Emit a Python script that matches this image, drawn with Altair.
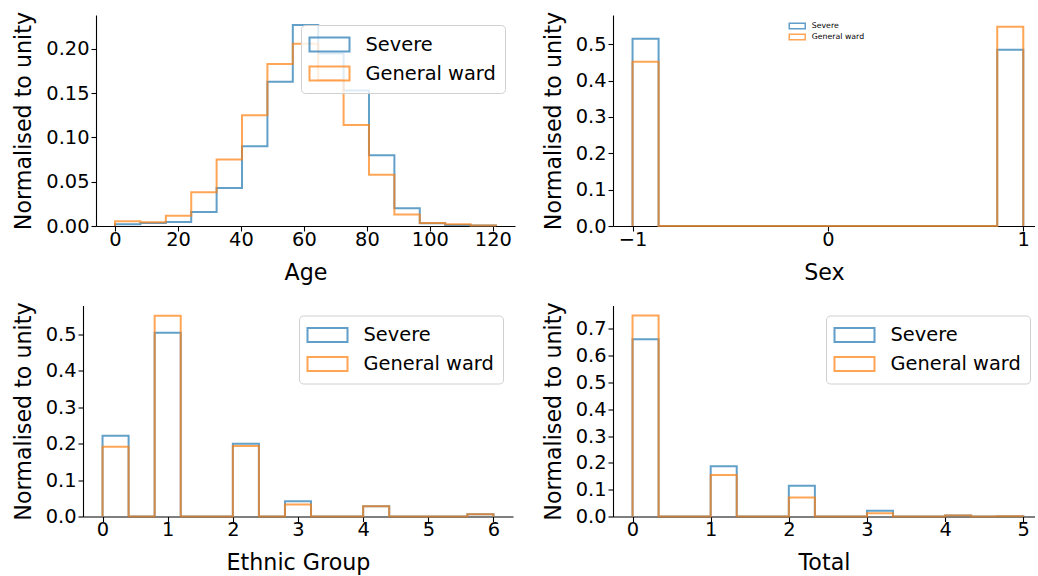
import altair as alt
import numpy as np
import pandas as pd

SERIES = ["Severe", "General ward"]
COLORS = ["#1f77b4", "#ff7f0e"]
FONT = "DejaVu Sans"

# ---- Age (15 bins from 0 to 121) ----
AGE_MIN, AGE_MAX, AGE_NBINS = 0.0, 121.0, 15
age_severe = [0.002, 0.0034, 0.0045, 0.0158, 0.043, 0.090, 0.163, 0.227,
              0.195, 0.153, 0.080, 0.020, 0.003, 0.001, 0.0005]
age_general = [0.0053, 0.0041, 0.0117, 0.038, 0.075, 0.125, 0.183, 0.206,
               0.165, 0.114, 0.058, 0.013, 0.0034, 0.002, 0.0005]

# ---- Sex (15 bins from -1 to 1) ----
SEX_MIN, SEX_MAX, SEX_NBINS = -1.0, 1.0, 15
sex_severe = [0.515, 0, 0, 0, 0, 0, 0, 0, 0, 0, 0, 0, 0, 0, 0.485]
sex_general = [0.452, 0, 0, 0, 0, 0, 0, 0, 0, 0, 0, 0, 0, 0, 0.548]

# ---- Ethnic group (15 bins from 0 to 6) ----
ETH_MIN, ETH_MAX, ETH_NBINS = 0.0, 6.0, 15
eth_severe = [0.222, 0, 0.505, 0, 0, 0.200, 0, 0.042, 0, 0, 0.028, 0, 0, 0, 0.006]
eth_general = [0.192, 0, 0.552, 0, 0, 0.194, 0, 0.033, 0, 0, 0.028, 0, 0, 0, 0.006]

# ---- Total (15 bins from 0 to 5) ----
TOT_MIN, TOT_MAX, TOT_NBINS = 0.0, 5.0, 15
tot_severe = [0.662, 0, 0, 0.1875, 0, 0, 0.115, 0, 0, 0.021, 0, 0, 0.004, 0, 0.001]
tot_general = [0.750, 0, 0, 0.155, 0, 0, 0.071, 0, 0, 0.0125, 0, 0, 0.004, 0, 0.001]

# legend patch: a wide, flat outlined rectangle
RECT = "M-2,-0.7L2,-0.7L2,0.7L-2,0.7Z"


def step_rows(lo, hi, nbins, heights, name):
    edges = np.linspace(lo, hi, nbins + 1)
    rows = [(edges[0], 0.0)]
    for i, h in enumerate(heights):
        rows.append((edges[i], h))
        rows.append((edges[i + 1], h))
    rows.append((edges[-1], 0.0))
    return [{"x": float(x), "y": float(y), "i": k, "series": name}
            for k, (x, y) in enumerate(rows)]


def hist_df(lo, hi, nbins, sev, gen):
    return pd.DataFrame(step_rows(lo, hi, nbins, sev, SERIES[0]) +
                        step_rows(lo, hi, nbins, gen, SERIES[1]))


def big_legend(**place):
    return alt.Legend(title=None, **place,
                      symbolType=RECT, symbolSize=400, symbolStrokeWidth=2,
                      symbolOpacity=0.7, symbolFillColor="transparent",
                      symbolOffset=9,
                      labelFontSize=19.4, labelFont=FONT, labelColor="black",
                      labelOffset=25, padding=8.5, rowPadding=7,
                      fillColor="rgba(255,255,255,0.8)", strokeColor="#d0d0d0",
                      cornerRadius=4)


def small_legend():
    return alt.Legend(title=None, orient="none", legendX=173, legendY=3,
                      symbolType=RECT, symbolSize=64, symbolStrokeWidth=1.5,
                      symbolOpacity=0.7, symbolFillColor="transparent",
                      symbolOffset=3.25,
                      labelFontSize=7.8, labelFont=FONT, labelColor="black",
                      labelOffset=9.5, padding=3, rowPadding=-1.5)


def panel(df, xtitle, xdom, xticks, xfmt, ymax, yticks, yfmt, width, legend,
          xrange=None, yoffset=0):
    xscale = alt.Scale(domain=xdom, nice=False, zero=False)
    if xrange is not None:
        xscale = alt.Scale(domain=xdom, nice=False, zero=False, range=xrange)
    return alt.Chart(df).mark_line(strokeWidth=2, opacity=0.7).encode(
        x=alt.X("x:Q", scale=xscale,
                axis=alt.Axis(title=xtitle, values=xticks, format=xfmt)),
        y=alt.Y("y:Q", scale=alt.Scale(domain=[0, ymax], nice=False),
                axis=alt.Axis(title="Normalised to unity", values=yticks,
                              format=yfmt, offset=yoffset)),
        color=alt.Color("series:N", scale=alt.Scale(domain=SERIES, range=COLORS),
                        legend=legend),
        order=alt.Order("i:Q"),
    ).properties(width=width, height=211)


p1 = panel(hist_df(AGE_MIN, AGE_MAX, AGE_NBINS, age_severe, age_general),
           "Age", [-6.05, 127.05], [0, 20, 40, 60, 80, 100, 120], "d",
           0.2384, [0, 0.05, 0.10, 0.15, 0.20], ".2f", 419,
           big_legend(orient="top-right", offset=10))
p2 = panel(hist_df(SEX_MIN, SEX_MAX, SEX_NBINS, sex_severe, sex_general),
           "Sex", [-1.1, 1.06], [-1, 0, 1], "d",
           0.5805, [0, 0.1, 0.2, 0.3, 0.4, 0.5], ".1f", 422, small_legend())
# bottom-left panel: its axis sits further left than the top-left one
p3 = panel(hist_df(ETH_MIN, ETH_MAX, ETH_NBINS, eth_severe, eth_general),
           "Ethnic Group", [-0.3, 6.3], [0, 1, 2, 3, 4, 5, 6], "d",
           0.58, [0, 0.1, 0.2, 0.3, 0.4, 0.5], ".1f", 417,
           big_legend(orient="top-right", offset=10),
           xrange=[-13, 417], yoffset=13)
p4 = panel(hist_df(TOT_MIN, TOT_MAX, TOT_NBINS, tot_severe, tot_general),
           "Total", [-0.25, 5.15], [0, 1, 2, 3, 4, 5], "d",
           0.7875, [0, 0.1, 0.2, 0.3, 0.4, 0.5, 0.6, 0.7], ".1f", 422,
           big_legend(orient="none", legendX=213, legendY=10))

chart = alt.concat(p1, p2, p3, p4, columns=2,
                   spacing={"row": 17.5, "column": 16}).resolve_scale(
    color="independent").resolve_legend(color="independent").properties(
    padding={"left": 12, "top": 11, "right": 0, "bottom": 0},
    background="white",
).configure_view(stroke=None).configure_axis(
    grid=False, domainColor="black", domainWidth=1.1, tickColor="black",
    tickWidth=1.1, tickSize=5, labelFontSize=19.4,
    titleFontSize=22.2, labelFont=FONT, titleFont=FONT, titleFontWeight="normal",
    labelColor="black", titleColor="black",
).configure_axisX(labelPadding=-1, titlePadding=13
).configure_axisY(labelPadding=2, titlePadding=10)

chart.save("out.html", embed_options={"renderer": "svg", "actions": False})
